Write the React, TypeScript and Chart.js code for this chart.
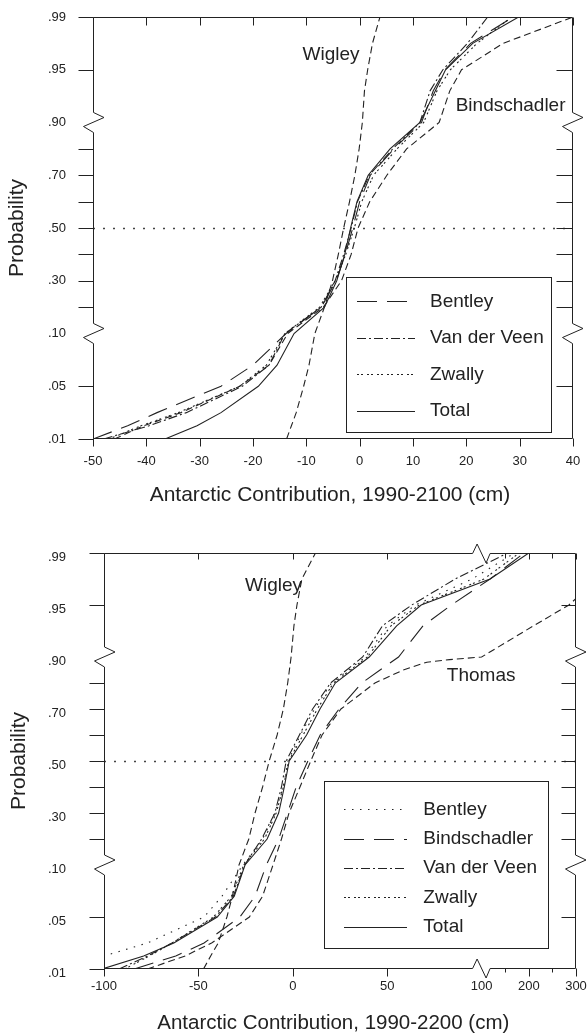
import React, { useEffect, useRef } from 'react';
import { Chart, registerables, LinearScale } from 'chart.js';

Chart.register(...registerables);

const FONT = '"Liberation Sans", Arial, Helvetica, sans-serif';
const INK = '#222';
const WIDTH = 587;
const PANEL_HEIGHT = 517;

// Probability axis: equal steps .01-.05-.10, linear from .10 to .90, equal steps .90-.95-.99
const PROB_KNOTS = [0.01, 0.05, 0.1, 0.9, 0.95, 0.99];
const PROB_STEPS = [0, 1, 2, 6, 7, 8];
const PROB_TICKS = [0.01, 0.05, 0.1, 0.2, 0.3, 0.4, 0.5, 0.6, 0.7, 0.8, 0.9, 0.95, 0.99];
const PROB_TICK_LABELS = ['.01', '.05', '.10', '', '.30', '', '.50', '', '.70', '', '.90', '.95', '.99'];
const PROB_BREAKS = [0.9, 0.1];
const MEDIAN = 0.5;

// 1990-2200 axis: linear to 100 cm, compressed fourfold from 100 to 300 cm
const CM_KNOTS = [-100, 100, 300];
const CM_STEPS = [-100, 100, 150];

const X2100_TICKS = [-50, -40, -30, -20, -10, 0, 10, 20, 30, 40];
const X2100_LABELS = ['-50', '-40', '-30', '-20', '-10', '0', '10', '20', '30', '40'];
const X2200_TICKS = [-100, -50, 0, 50, 100, 150, 200, 250, 300];
const X2200_LABELS = ['-100', '-50', '0', '50', '100', '', '200', '', '300'];

// Cumulative probability levels shared by the curves
const PROB = [0.01, 0.02, 0.03, 0.05, 0.07, 0.1, 0.2, 0.3, 0.4, 0.5, 0.6, 0.7, 0.8, 0.9, 0.93, 0.95, 0.97, 0.99];

// Antarctic contribution 1990-2100 (cm) at each level of PROB
const wigley2100 = [-13.7, -12.8, -11.9, -10.5, -9.5, -8.4, -6.6, -5.1, -4.0, -3.0, -1.9, -0.9, -0.1, 0.5, 0.9, 1.5, 2.4, 3.8];
const bindschadler2100 = [-46, -40.5, -33.5, -22.5, -17, -13.5, -6.8, -3.4, -1.6, -0.3, 1.9, 5.1, 8.8, 14.9, 16.9, 19.1, 26.9, 40];
const bentley2100 = [-50, -43.5, -38, -26, -20, -13.8, -7.2, -4.4, -2.7, -1.3, 0.0, 2.0, 6.4, 11.6, 13.8, 16.0, 20.8, 28.8];
const vanDerVeen2100 = [-48, -39.5, -32.5, -22, -17, -14, -7.2, -4.6, -3.0, -1.6, -0.4, 1.8, 6.2, 11.3, 13.2, 15.6, 20.2, 24];
const zwally2100 = [-47, -41, -34, -22.5, -17.5, -14, -7.5, -4.6, -2.6, -1.0, 0.4, 2.6, 7.0, 12.0, 14.5, 17, 22, 28.5];
const total2100 = [-36.5, -30.5, -26, -19, -15.5, -12.3, -6.6, -4.3, -2.8, -1.7, -0.5, 1.6, 5.7, 11.3, 14.2, 16.1, 21.2, 29.8];

// Antarctic contribution 1990-2200 (cm) at each level of PROB
const wigley2200 = [-47.3, -43.5, -39.5, -34.9, -32, -28.5, -23.3, -20, -16, -12.5, -8.3, -5.0, -2.7, -0.9, 0.6, 2.2, 4.8, 12];
const bentley2200 = [-125, -100, -77, -47, -37.5, -26.5, -16, -9.5, -5, -2.5, 4, 11.5, 20.5, 38.5, 50, 65, 95, 170];
const bindschadler2200 = [-84, -62, -47, -28, -20, -14, -7.5, -2.8, 1.8, 8, 14.5, 24.5, 36.5, 56, 69, 84, 118, 190];
const vanDerVeen2200 = [-92, -77, -64, -41, -31.5, -25.5, -16.5, -9.5, -6, -3.5, 3.5, 10.5, 20, 37, 47.5, 63, 86, 155];
const zwally2200 = [-89, -76, -64, -42, -32.5, -26, -15, -8.8, -5, -2.2, 5.5, 13, 21.5, 39.5, 52, 67, 105, 180];
const total2200 = [-101, -79, -63, -40, -31, -25.3, -13.6, -7.5, -4.5, -1.9, 7.3, 14.4, 22.5, 40.5, 55, 68, 118, 200];
const THOMAS_PROB = [0.01, 0.02, 0.03, 0.05, 0.07, 0.1, 0.2, 0.3, 0.4, 0.5, 0.6, 0.7, 0.8, 0.85, 0.88, 0.89, 0.9, 0.93, 0.95, 0.97];
const thomas2200 = [-77, -57, -43, -23, -16, -10.5, -6, -2, 3.8, 9.5, 15.5, 25.5, 43.5, 58.5, 71, 83, 100, 210, 285, 345];

const SHORT_DASH = [7, 4];
const LONG_DASH = [20, 10];
const DASH_DOT = [9, 3, 2, 3];
const FINE_DOTS = [2, 2, 2, 4];
const SPARSE_DOTS = [1.5, 6.5];
const SOLID: number[] = [];

function interp(from: number[], to: number[], v: number): number {
  const n = from.length;
  let i = 0;
  if (v >= from[n - 1]) i = n - 2;
  else while (i < n - 2 && v > from[i + 1]) i++;
  const t = (v - from[i]) / (from[i + 1] - from[i]);
  return to[i] + t * (to[i + 1] - to[i]);
}

// Linear scale whose pixel mapping is piecewise linear between knots
function piecewiseScale(id: string, knots: number[], steps: number[]) {
  return class extends LinearScale {
    static id = id;
    static defaults = {};
    getPixelForValue(value: number) {
      if (value === null || value === undefined || Number.isNaN(value)) return NaN;
      const a = interp(knots, steps, this.min);
      const b = interp(knots, steps, this.max);
      return this.getPixelForDecimal((interp(knots, steps, value) - a) / (b - a));
    }
    getValueForPixel(pixel: number) {
      const a = interp(knots, steps, this.min);
      const b = interp(knots, steps, this.max);
      return interp(steps, knots, a + this.getDecimalForPixel(pixel) * (b - a));
    }
  };
}

Chart.register(
  piecewiseScale('probability', PROB_KNOTS, PROB_STEPS),
  piecewiseScale('brokenLinear', CM_KNOTS, CM_STEPS)
);

const PANEL_2100 = {
  area: { left: 93, top: 17, right: 573, bottom: 439 },
  xType: 'linear',
  xMin: -50,
  xMax: 40,
  xTicks: X2100_TICKS,
  xLabels: X2100_LABELS,
  xTickPad: 14.7,
  xBreaks: [] as number[],
  xTitle: 'Antarctic Contribution, 1990-2100 (cm)',
  xTitleSize: 21,
  xTitleDx: -3,
  xTitleDy: 61.7,
  yTitlePad: 7,
  yLabelOffset: 0,
  yLabelPad: 27,
  rightTick: 16,
  topTick: 8,
  series: [
    { name: 'Wigley', x: wigley2100, p: PROB, dash: SHORT_DASH },
    { name: 'Bindschadler', x: bindschadler2100, p: PROB, dash: SHORT_DASH },
    { name: 'Bentley', x: bentley2100, p: PROB, dash: LONG_DASH },
    { name: 'Van der Veen', x: vanDerVeen2100, p: PROB, dash: DASH_DOT },
    { name: 'Zwally', x: zwally2100, p: PROB, dash: FINE_DOTS },
    { name: 'Total', x: total2100, p: PROB, dash: SOLID },
  ],
  curveLabels: [
    { text: 'Wigley', x: -10.7, p: 0.9574 },
    { text: 'Bindschadler', x: 18.0, p: 0.9109 },
  ],
  legendNames: ['Bentley', 'Van der Veen', 'Zwally', 'Total'],
  legend: { width: 205, height: 155, right: 22, bottom: 6.7, first: 24, gap: 36.5, s0: 11, s1: 69, text: 84 },
};

const PANEL_2200 = {
  area: { left: 104, top: 36, right: 576, bottom: 452 },
  xType: 'brokenLinear',
  xMin: -100,
  xMax: 300,
  xTicks: X2200_TICKS,
  xLabels: X2200_LABELS,
  xTickPad: 9.9,
  xBreaks: [100],
  xTitle: 'Antarctic Contribution, 1990-2200 (cm)',
  xTitleSize: 20.5,
  xTitleDx: -6.7,
  xTitleDy: 60.3,
  yTitlePad: 9,
  yLabelOffset: 4.5,
  yLabelPad: 38,
  rightTick: 14,
  topTick: 6,
  series: [
    { name: 'Wigley', x: wigley2200, p: PROB, dash: SHORT_DASH },
    { name: 'Thomas', x: thomas2200, p: THOMAS_PROB, dash: SHORT_DASH },
    { name: 'Bentley', x: bentley2200, p: PROB, dash: SPARSE_DOTS },
    { name: 'Bindschadler', x: bindschadler2200, p: PROB, dash: LONG_DASH },
    { name: 'Van der Veen', x: vanDerVeen2200, p: PROB, dash: DASH_DOT },
    { name: 'Zwally', x: zwally2200, p: PROB, dash: FINE_DOTS },
    { name: 'Total', x: total2200, p: PROB, dash: SOLID },
  ],
  curveLabels: [
    { text: 'Wigley', x: -25.3, p: 0.9608 },
    { text: 'Thomas', x: 81.6, p: 0.8088 },
  ],
  legendNames: ['Bentley', 'Bindschadler', 'Van der Veen', 'Zwally', 'Total'],
  legend: { width: 224.3, height: 166.6, right: 27.7, bottom: 21.7, first: 28.6, gap: 29.35, s0: 20, s1: 83, text: 99.3 },
};

type Panel = typeof PANEL_2100;

const crisp = (v: number) => Math.round(v) + 0.5;

// Median line, curve names, boxed legend, framed axes with break marks, x-axis title
function decorations(panel: Panel) {
  return {
    id: 'panelDecorations',
    beforeDatasetsDraw(chart: any) {
      const { ctx, chartArea: a } = chart;
      const y = crisp(chart.scales.y.getPixelForValue(MEDIAN));
      ctx.save();
      ctx.strokeStyle = '#444';
      ctx.lineWidth = 1.3;
      ctx.setLineDash([2, 8]);
      ctx.beginPath();
      ctx.moveTo(a.left, y);
      ctx.lineTo(a.right, y);
      ctx.stroke();
      ctx.restore();
    },
    afterDatasetsDraw(chart: any) {
      const { ctx, chartArea: a, scales } = chart;
      const { x, y } = scales;
      ctx.save();
      ctx.fillStyle = INK;
      ctx.font = `19px ${FONT}`;
      ctx.textAlign = 'left';
      ctx.textBaseline = 'alphabetic';
      for (const l of panel.curveLabels) {
        ctx.fillText(l.text, x.getPixelForValue(l.x), y.getPixelForValue(l.p));
      }

      const L = panel.legend;
      const left = a.right - L.right - L.width;
      const top = a.bottom - L.bottom - L.height;
      ctx.fillStyle = '#fff';
      ctx.fillRect(left, top, L.width, L.height);
      ctx.strokeStyle = INK;
      ctx.lineWidth = 1;
      ctx.strokeRect(crisp(left), crisp(top), Math.round(L.width), Math.round(L.height));
      panel.legendNames.forEach((name, i) => {
        const ds = chart.data.datasets.find((d: any) => d.label === name);
        const ry = top + L.first + i * L.gap;
        ctx.setLineDash(ds.borderDash || []);
        ctx.lineWidth = ds.borderWidth;
        ctx.strokeStyle = ds.borderColor;
        ctx.beginPath();
        ctx.moveTo(left + L.s0, crisp(ry));
        ctx.lineTo(left + L.s1, crisp(ry));
        ctx.stroke();
        ctx.setLineDash([]);
        ctx.fillStyle = INK;
        ctx.textBaseline = 'middle';
        ctx.fillText(name, left + L.text, ry);
      });
      ctx.restore();
    },
    afterDraw(chart: any) {
      const { ctx, chartArea: a, scales } = chart;
      const { x, y } = scales;
      const L = Math.round(a.left) + 0.5;
      const R = Math.round(a.right) - 0.5;
      const T = Math.round(a.top) + 0.5;
      const B = Math.round(a.bottom) - 0.5;
      ctx.save();
      ctx.strokeStyle = INK;
      ctx.lineWidth = 1;
      ctx.setLineDash([]);

      // left and right axes, broken at .90 and .10
      for (const ax of [L, R]) {
        ctx.beginPath();
        ctx.moveTo(ax, T);
        for (const b of PROB_BREAKS) {
          const py = y.getPixelForValue(b);
          ctx.lineTo(ax, py - 10);
          ctx.lineTo(ax + 10.5, py - 5);
          ctx.lineTo(ax - 10, py + 4);
          ctx.lineTo(ax, py + 10);
        }
        ctx.lineTo(ax, B);
        ctx.stroke();
      }

      // top and bottom axes, with optional break marks
      for (const edge of [T, B]) {
        ctx.beginPath();
        ctx.moveTo(L, edge);
        for (const b of panel.xBreaks) {
          const px = x.getPixelForValue(b);
          ctx.lineTo(px - 9, edge);
          ctx.lineTo(px - 4.5, edge - 9.5);
          ctx.lineTo(px + 4.5, edge + 9.5);
          ctx.lineTo(px + 8.5, edge);
        }
        ctx.lineTo(R, edge);
        ctx.stroke();
      }

      // probability ticks: outward on the left, inward on the right
      ctx.beginPath();
      PROB_TICKS.forEach((p) => {
        if (PROB_BREAKS.includes(p)) return;
        const py = crisp(y.getPixelForValue(p));
        ctx.moveTo(L - 15, py);
        ctx.lineTo(L, py);
        if (p !== PROB_TICKS[0] && p !== PROB_TICKS[PROB_TICKS.length - 1]) {
          ctx.moveTo(R - panel.rightTick, py);
          ctx.lineTo(R, py);
        }
      });

      // contribution ticks: outward below, inward above
      panel.xTicks.forEach((v, i) => {
        if (panel.xBreaks.includes(v)) return;
        const px = crisp(x.getPixelForValue(v));
        const minor = panel.xLabels[i] === '';
        ctx.moveTo(px, B);
        ctx.lineTo(px, B + (minor ? 4 : 8));
        ctx.moveTo(px, T);
        ctx.lineTo(px, T + (minor ? 5 : panel.topTick));
      });
      ctx.stroke();

      ctx.fillStyle = INK;
      ctx.font = `${panel.xTitleSize}px ${FONT}`;
      ctx.textAlign = 'center';
      ctx.textBaseline = 'alphabetic';
      ctx.fillText(panel.xTitle, (a.left + a.right) / 2 + panel.xTitleDx, a.bottom + panel.xTitleDy);
      ctx.restore();
    },
  };
}

function buildConfig(panel: Panel): any {
  const tickFont = { family: FONT, size: 13 };
  return {
    type: 'line',
    data: {
      datasets: panel.series.map((s) => ({
        label: s.name,
        data: s.x.map((x, i) => ({ x, y: s.p[i] })),
        borderColor: INK,
        borderWidth: 1.1,
        borderDash: s.dash,
        pointRadius: 0,
        pointHoverRadius: 0,
        tension: 0,
        fill: false,
      })),
    },
    options: {
      responsive: false,
      animation: false,
      devicePixelRatio: 1,
      events: [],
      layout: { padding: { left: 0, top: panel.area.top, right: WIDTH - panel.area.right, bottom: 0 } },
      plugins: { legend: { display: false }, tooltip: { enabled: false } },
      scales: {
        x: {
          type: panel.xType,
          position: 'bottom',
          min: panel.xMin,
          max: panel.xMax,
          bounds: 'data',
          grid: { display: false, drawTicks: false },
          border: { display: false },
          afterBuildTicks: (s: any) => {
            s.ticks = panel.xTicks.map((value) => ({ value }));
          },
          ticks: {
            autoSkip: false,
            maxRotation: 0,
            minRotation: 0,
            padding: panel.xTickPad,
            color: INK,
            font: tickFont,
            callback: (_v: number, i: number) => panel.xLabels[i],
          },
          afterFit: (s: any) => {
            s.height = PANEL_HEIGHT - panel.area.bottom;
            s.paddingLeft = 0;
            s.paddingRight = 0;
          },
        },
        y: {
          type: 'probability',
          position: 'left',
          min: 0.01,
          max: 0.99,
          bounds: 'data',
          grid: { display: false, drawTicks: false },
          border: { display: false },
          afterBuildTicks: (s: any) => {
            s.ticks = PROB_TICKS.map((value) => ({ value }));
          },
          ticks: {
            autoSkip: false,
            padding: panel.yLabelPad,
            labelOffset: panel.yLabelOffset,
            color: INK,
            font: tickFont,
            callback: (_v: number, i: number) => PROB_TICK_LABELS[i],
          },
          title: {
            display: true,
            text: 'Probability',
            color: INK,
            font: { family: FONT, size: 21, lineHeight: 1 },
            padding: { top: panel.yTitlePad, bottom: 0 },
          },
          afterFit: (s: any) => {
            s.width = panel.area.left;
            s.paddingTop = 0;
            s.paddingBottom = 0;
          },
        },
      },
    },
    plugins: [decorations(panel)],
  };
}

function ProbabilityPanel({ panel }: { panel: Panel }) {
  const ref = useRef<HTMLCanvasElement>(null);
  useEffect(() => {
    const chart = new Chart(ref.current as HTMLCanvasElement, buildConfig(panel));
    return () => chart.destroy();
  }, [panel]);
  return (
    <canvas
      ref={ref}
      width={WIDTH}
      height={PANEL_HEIGHT}
      style={{ display: 'block', width: WIDTH, height: PANEL_HEIGHT }}
    />
  );
}

export default function App() {
  useEffect(() => {
    document.body.style.margin = '0';
  }, []);
  return (
    <div style={{ position: 'absolute', left: 0, top: 0, width: WIDTH, height: 2 * PANEL_HEIGHT, background: '#fff' }}>
      <ProbabilityPanel panel={PANEL_2100} />
      <ProbabilityPanel panel={PANEL_2200 as unknown as Panel} />
    </div>
  );
}
